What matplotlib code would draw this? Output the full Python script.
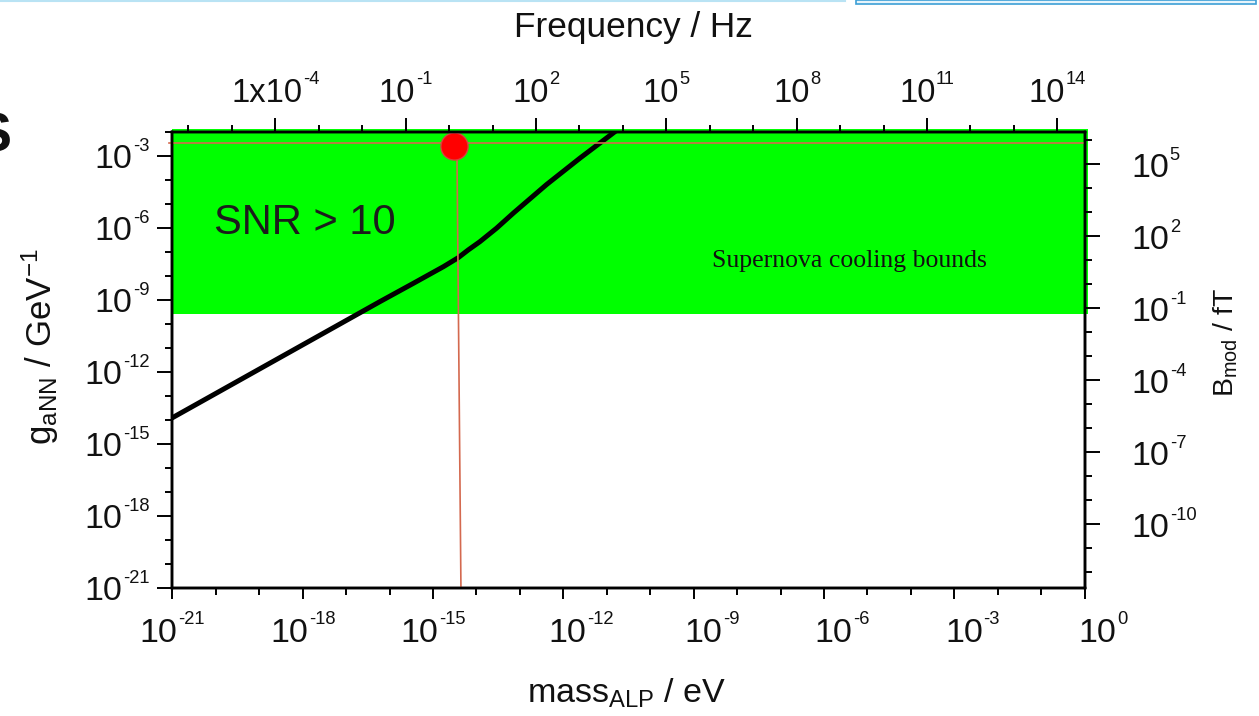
import matplotlib
matplotlib.use("Agg")
import matplotlib.pyplot as plt
from matplotlib.patches import Rectangle
from matplotlib.lines import Line2D
from matplotlib.ticker import FixedLocator, NullFormatter
from matplotlib.offsetbox import TextArea, HPacker, VPacker, DrawingArea, AnnotationBbox

SANS = "Liberation Sans"
SERIF = "Liberation Serif"
plt.rcParams["font.family"] = [SANS, "DejaVu Sans"]
plt.rcParams["mathtext.fontset"] = "custom"
plt.rcParams["mathtext.rm"] = SANS
plt.rcParams["mathtext.it"] = SANS + ":italic"
plt.rcParams["mathtext.bf"] = SANS + ":bold"

# ---- data -------------------------------------------------------------
# SNR = 10 sensitivity curve: coupling vs ALP mass
curve_mass = [1e-21, 6.0e-17, 3.5e-16, 1.74e-15, 3.8e-15, 6.5e-15, 1.2e-14,
              2.9e-14, 7.1e-14, 4.1e-13, 2.4e-12, 1.4e-11, 2.5e-11]
curve_coupling = [1.25e-14, 8.7e-10, 5.0e-9, 2.5e-8, 5.9e-8, 1.25e-7, 2.75e-7,
                  1.0e-6, 4.3e-6, 6.6e-5, 8.3e-4, 9.3e-3, 2.1e-2]

# lower edge of the supernova-cooling excluded band
sn_lower_coupling = 2.6e-10

# marked operating point and its guide lines
probe_mass = 3.1e-15
probe_coupling = 2.6e-3
level_coupling = 3.6e-3
drop_mass = [3.55e-15, 4.4e-15]
drop_coupling = [2.6e-3, 1e-21]

# conversions used by the secondary axes
FREQ_PER_EV = 10 ** 14.63   # Hz per eV
FT_PER_COUPLING = 10 ** 8.32  # fT per GeV^-1

mass_exponents = list(range(-21, 1, 3))
coupling_exponents = list(range(-21, -2, 3))
freq_exponents = list(range(-4, 15, 3))
field_exponents = list(range(-10, 6, 3))
mass_label_nudge_px = [0, 0, 0, 18, 18, 18, 18, 18]

# ---- figure -------------------------------------------------------------
INK = "#111111"
RED_LINE = "#d4694f"
PX = 0.72  # points per pixel at 100 dpi

fig = plt.figure(figsize=(12.59, 7.16), dpi=100)
ax = fig.add_axes([172.3 / 1259, 1 - 588 / 716, (1084.7 - 172.3) / 1259, (588 - 132.3) / 716])
ax.set_xscale("log")
ax.set_yscale("log")
ax.set_xlim(1e-21, 1e0)
ax.set_ylim(1e-21, 1e-2)

# excluded band (drawn a touch past the frame)
x0, x1 = ax.get_xlim()
y1 = ax.get_ylim()[1]
ax.add_patch(Rectangle((x0, sn_lower_coupling), x1 * 10 ** 0.065 - x0,
                       y1 * 10 ** 0.13 - sn_lower_coupling,
                       facecolor="#00ff00", edgecolor="none", clip_on=False, zorder=0))

ax.plot(curve_mass, curve_coupling, color="black", lw=3.6, zorder=3,
        solid_joinstyle="round")
ax.plot([x0 * 10 ** -0.076, x1], [level_coupling, level_coupling], color=RED_LINE,
        lw=1.2, clip_on=False, zorder=4)
ax.plot(drop_mass, drop_coupling, color=RED_LINE, lw=1.2, zorder=4)
ax.plot([probe_mass], [probe_coupling], "o", ms=19.5, mfc="#ff0000", mec="#d84040",
        mew=1.0, zorder=5, clip_on=False)

ax.text(10 ** -20.03, 10 ** -6.24, "SNR > 10", fontsize=30, color="#1c1c1c",
        ha="left", va="baseline", zorder=6)
ax.text(10 ** -8.58, 10 ** -7.365, "Supernova cooling bounds", family=SERIF,
        fontsize=18.5, color="#111111", ha="left", va="center", zorder=6)

# ---- axes, ticks ------------------------------------------------------
def set_log_ticks(axis, exps, lo, hi):
    axis.set_major_locator(FixedLocator([10.0 ** e for e in exps]))
    axis.set_minor_locator(FixedLocator([10.0 ** e for e in range(lo, hi + 1)]))
    axis.set_major_formatter(NullFormatter())
    axis.set_minor_formatter(NullFormatter())

set_log_ticks(ax.xaxis, mass_exponents, -21, 0)
set_log_ticks(ax.yaxis, coupling_exponents, -21, -2)
ax.tick_params(axis="x", which="major", direction="out", length=8, width=1.4,
               top=False, labelbottom=False)
ax.tick_params(axis="x", which="minor", direction="out", length=5, width=1.4, top=False)
ax.tick_params(axis="y", which="major", direction="out", length=10.8, width=1.4,
               right=False, labelleft=False)
ax.tick_params(axis="y", which="minor", direction="out", length=5, width=1.4, right=False)

axt = ax.twiny()
axt.set_xscale("log")
axt.set_xlim(x0 * FREQ_PER_EV, x1 * FREQ_PER_EV)
set_log_ticks(axt.xaxis, freq_exponents, -7, 14)
axt.tick_params(axis="x", which="major", direction="out", length=10, width=1.4, labeltop=False)
axt.tick_params(axis="x", which="minor", direction="out", length=5, width=1.4)

axr = ax.twinx()
axr.set_yscale("log")
axr.set_ylim(1e-21 * FT_PER_COUPLING, 1e-2 * FT_PER_COUPLING)
set_log_ticks(axr.yaxis, field_exponents, -12, 6)
axr.tick_params(axis="y", which="major", direction="out", length=10.8, width=1.4, labelright=False)
axr.tick_params(axis="y", which="minor", direction="out", length=5, width=1.4)

for a in (ax, axt, axr):
    for s in a.spines.values():
        s.set_linewidth(1.7)
        s.set_color("black")


def power_label(host, transform, xy, exponent, box_align, offset, prefix="10",
                size=24.5, sup_size=13.2, lift=14.8):
    base = TextArea(prefix, textprops=dict(fontsize=size, color=INK, family=SANS))
    sup = TextArea(exponent, textprops=dict(fontsize=sup_size, color=INK, family=SANS))
    sup_col = VPacker(children=[sup, DrawingArea(0.1, lift)], align="left", pad=0, sep=0)
    box = HPacker(children=[base, sup_col], align="bottom", pad=0, sep=0.5)
    host.add_artist(AnnotationBbox(box, xy, xycoords=transform, xybox=offset,
                                   boxcoords="offset points", box_alignment=box_align,
                                   frameon=False, pad=0, annotation_clip=False))


# bottom: ALP mass
for e, nudge in zip(mass_exponents, mass_label_nudge_px):
    power_label(ax, ax.get_xaxis_transform(), (10.0 ** e, 0), str(e), (0.5, 0),
                (nudge * PX, -61 * PX))
# left: coupling
for e in coupling_exponents:
    power_label(ax, ax.get_yaxis_transform(), (0, 10.0 ** e), str(e), (1, 0),
                (-22.5 * PX, -19.2 * PX))
# top: frequency
for e in freq_exponents:
    pre = "1x10" if e == -4 else "10"
    power_label(axt, axt.get_xaxis_transform(), (10.0 ** e, 1), str(e), (0.5, 0),
                (0, 23.6 * PX), prefix=pre, size=23.5)
# right: modulated field
for e in field_exponents:
    power_label(axr, axr.get_yaxis_transform(), (1, 10.0 ** e), str(e), (0, 0),
                (46.5 * PX, -20.5 * PX))

# ---- axis titles --------------------------------------------------------
fig.text(633.5 / 1259, 1 - 37.3 / 716, "Frequency / Hz", fontsize=25.4, color=INK,
         ha="center", va="baseline")
fig.text(627 / 1259, 1 - 702.7 / 716, r"mass$_{\mathregular{ALP}}$ / eV", fontsize=24.5,
         color=INK, ha="center", va="baseline")
fig.text(40 / 1259, 1 - 347 / 716, r"g$_{\mathregular{aNN}}$ / GeV$^{\mathregular{-1}}$",
         fontsize=25, color=INK, rotation=90, ha="center", va="center")
fig.text(1226 / 1259, 1 - 342 / 716, r"B$_{\mathregular{mod}}$ / fT", fontsize=20.5,
         color=INK, rotation=90, ha="center", va="center")

# panel letter and page edge trimmed at the border
fig.text(11 / 1259, 1 - 152 / 716, "S", fontsize=40, weight="bold", color="#111111",
         ha="right", va="baseline")
fig.add_artist(Line2D([0, 845 / 1259], [1 - 0.8 / 716] * 2, transform=fig.transFigure,
                      color="#b9e3f4", lw=1.5))
fig.add_artist(Rectangle((856 / 1259, 1 - 4 / 716), 400 / 1259, 4 / 716,
                         transform=fig.transFigure, facecolor="#e6f4fb",
                         edgecolor="#3d9fd6", lw=1.2))

fig.savefig("out.png", dpi=100)
